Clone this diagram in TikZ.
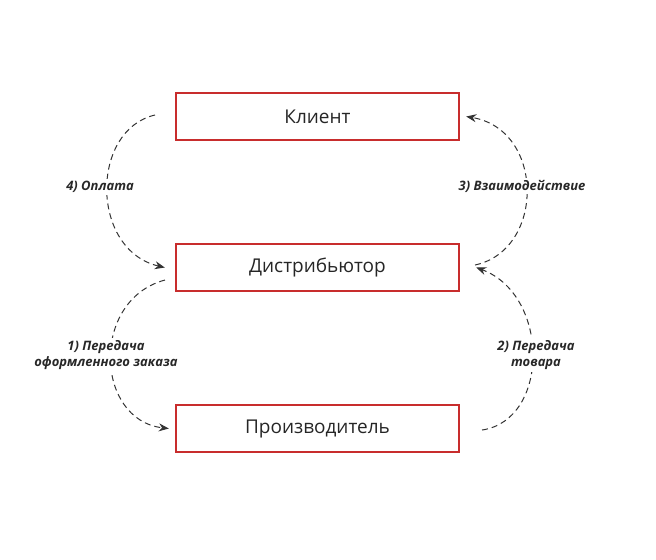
\documentclass[tikz,border=0pt]{standalone}
\usepackage{fontspec}
\setmainfont{Open Sans}
\usetikzlibrary{arrows.meta, positioning}
\definecolor{boxred}{RGB}{200,45,45}
\definecolor{labelgray}{RGB}{40,40,40}
\begin{document}
\begin{tikzpicture}[
    x=0.5pt, y=-0.5pt,
    >={Stealth[length=5pt,width=4pt]},
    stagebox/.style={rectangle, draw=boxred, line width=1.2pt, minimum width=141.5pt,
        minimum height=23.5pt, font=\fontsize{9.5}{11}\selectfont, text=black!85},
    flowline/.style={->, densely dashed, line width=0.5pt, black!80},
    flowlabel/.style={font=\fontsize{6.5}{8}\selectfont\itshape\bfseries, text=labelgray,
        fill=white, align=center, inner sep=1pt},
]
\useasboundingbox (0,0) rectangle (656,559);

% === STAGES ===
\node[stagebox] (client) at (317.5,116.5) {Клиент};
\node[stagebox] (distr) at (317.5,267.5) {Дистрибьютор};
\node[stagebox] (maker) at (317.5,428.5) {Производитель};

% free ends
\coordinate (payS) at (155,115);
\coordinate (talkS) at (475,265);
\coordinate (orderS) at (165,280);
\coordinate (goodsS) at (482,430);

% === FLOWS ===
\draw[flowline] (payS) .. controls (90,130) and (90,250) .. ([xshift=-5pt]distr.west);
\draw[flowline] (talkS) .. controls (545,250) and (545,130) .. ([xshift=3pt]client.east);
\draw[flowline] (orderS) .. controls (90,300) and (95,420) .. ([xshift=-3pt]maker.west);
\draw[flowline] (goodsS) .. controls (550,420) and (550,295) .. ([xshift=8pt]distr.east);

% === LABELS ===
\node[flowlabel] (payL) at (100,187) {4) Оплата};
\node[flowlabel] (talkL) at (522,186) {3) Взаимодействие};
\node[flowlabel] (orderL) at (106,355) {1) Передача\\оформленного заказа};
\node[flowlabel] (goodsL) at (536,355) {2) Передача\\товара};

\end{tikzpicture}
\end{document}
